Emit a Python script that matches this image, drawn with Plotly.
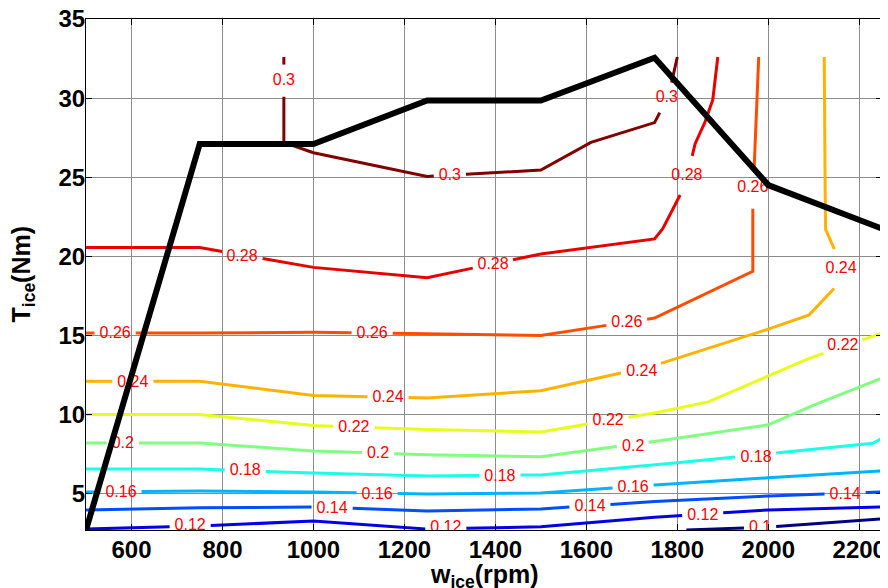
import math
import plotly.graph_objects as go

# axis limits of the map
w_min, w_max = 500, 2250
t_min, t_max = 2.7, 35

# contour levels (jet colours, MATLAB style)
levels = ['0.1', '0.12', '0.14', '0.16', '0.18', '0.2', '0.22', '0.24', '0.26', '0.28', '0.3']
level_colors = ['#000080', '#0000e6', '#004dff', '#00b3ff', '#1affe6', '#80ff80',
                '#e6ff1a', '#ffb300', '#ff4d00', '#e60000', '#800000']

# contour vertices: speed (rpm) / torque (Nm)
c010_w = [1820, 2000, 2250]
c010_t = [2.7, 2.89, 3.4]
c012_w = [500, 750, 1000, 1250, 1500, 1750, 2000, 2250]
c012_t = [2.76, 2.95, 3.27, 2.76, 2.9, 3.5, 3.97, 4.15]
c014_w = [500, 750, 1000, 1250, 1500, 1750, 2000, 2250]
c014_t = [3.97, 4.1, 4.16, 3.9, 4.03, 4.5, 4.85, 5.1]
c016_w = [500, 750, 1000, 1250, 1500, 1750, 2000, 2250]
c016_t = [5.1, 5.17, 5.1, 4.98, 5.04, 5.55, 6.0, 6.43]
c018_w = [500, 750, 1000, 1250, 1500, 1800, 2230, 2250]
c018_t = [6.55, 6.55, 6.3, 6.12, 6.18, 6.95, 8.18, 8.5]
c020_w = [500, 750, 1000, 1250, 1500, 1750, 2000, 2100, 2250]
c020_t = [8.2, 8.2, 7.7, 7.45, 7.33, 8.3, 9.35, 10.6, 12.3]
c022_w = [500, 750, 1000, 1250, 1500, 1750, 1868, 2000, 2090, 2250]
c022_t = [10.0, 10.0, 9.3, 9.05, 8.9, 10.1, 10.8, 12.45, 13.55, 15.15]
c024_w = [500, 750, 1000, 1250, 1500, 1750, 2000, 2090, 2143, 2154, 2150, 2126, 2125, 2123]
c024_t = [12.1, 12.1, 11.2, 11.05, 11.5, 13.1, 15.4, 16.3, 17.9, 18.4, 20.15, 21.7, 24.4, 32.6]
c026_w = [500, 750, 1000, 1250, 1500, 1750, 1966, 1966, 1975, 1979]
c026_t = [15.15, 15.15, 15.2, 15.1, 15.0, 16.1, 19.05, 23.45, 30.0, 32.6]
c028_w = [500, 750, 1000, 1250, 1500, 1750, 1768, 1812, 1832, 1839, 1861, 1878, 1889]
c028_t = [20.55, 20.55, 19.3, 18.65, 20.15, 21.1, 21.75, 24.2, 26.25, 27.1, 28.5, 29.9, 32.6]
c030_w = [935, 935, 1000, 1250, 1500, 1610, 1750, 1768, 1786, 1800]
c030_t = [32.6, 27.2, 26.55, 25.05, 25.45, 27.2, 28.45, 29.45, 30.8, 32.6]

contour_w = [c010_w, c012_w, c014_w, c016_w, c018_w, c020_w, c022_w, c024_w, c026_w, c028_w, c030_w]
contour_t = [c010_t, c012_t, c014_t, c016_t, c018_t, c020_t, c022_t, c024_t, c026_t, c028_t, c030_t]

# inline labels (level, speed, torque)
label_lvl = ['0.1', '0.12', '0.12', '0.12', '0.14', '0.14', '0.14', '0.16', '0.16', '0.16',
             '0.18', '0.18', '0.18', '0.2', '0.2', '0.2', '0.22', '0.22', '0.22',
             '0.24', '0.24', '0.24', '0.24', '0.26', '0.26', '0.26', '0.26',
             '0.28', '0.28', '0.28', '0.3', '0.3', '0.3']
label_w = [1982, 729, 1291, 1856, 1041, 1608, 2169, 577, 1140, 1703,
           850, 1410, 1973, 581, 1142, 1703, 1089, 1648, 2164,
           603, 1164, 1722, 2160, 564, 1129, 1689, 1966,
           843, 1395, 1821, 935, 1300, 1777]
label_t = [2.8, 2.95, 2.85, 3.6, 4.05, 4.15, 4.9, 5.05, 4.9, 5.35,
           6.4, 6.05, 7.25, 8.15, 7.5, 7.95, 9.15, 9.6, 14.3,
           12.0, 11.05, 12.7, 19.2, 15.1, 15.1, 15.8, 24.3,
           19.95, 19.45, 25.1, 31.1, 25.1, 30.0]

# ICE max torque curve
curve_w = [500, 750, 1000, 1250, 1500, 1750, 2000, 2250]
curve_t = [2.7, 27.1, 27.1, 29.85, 29.85, 32.55, 24.5, 21.75]

SX = 796 / (w_max - w_min)
SY = 511 / (t_max - t_min)
LABEL_SIZE = 16


def text_width(txt):
    return sum(0.278 if ch == '.' else 0.556 for ch in txt) * LABEL_SIZE


def cut_gaps(ws, ts, marks):
    px = [(w - w_min) * SX for w in ws]
    py = [(t - t_min) * SY for t in ts]
    s = [0.0]
    for i in range(1, len(px)):
        s.append(s[-1] + math.hypot(px[i] - px[i - 1], py[i] - py[i - 1]))
    cuts = []
    for mw, mt, txt in marks:
        qx, qy = (mw - w_min) * SX, (mt - t_min) * SY
        best = None
        for i in range(len(px) - 1):
            dx, dy = px[i + 1] - px[i], py[i + 1] - py[i]
            l2 = dx * dx + dy * dy
            u = 0 if l2 == 0 else max(0, min(1, ((qx - px[i]) * dx + (qy - py[i]) * dy) / l2))
            d = math.hypot(px[i] + u * dx - qx, py[i] + u * dy - qy)
            if best is None or d < best[0]:
                best = (d, s[i] + u * math.sqrt(l2))
        half = text_width(txt) / 2 + 5
        cuts.append((best[1] - half, best[1] + half))
    cuts.sort()
    keep, a = [], 0.0
    for c0, c1 in cuts:
        if c0 > a:
            keep.append((a, c0))
        a = max(a, c1)
    if a < s[-1]:
        keep.append((a, s[-1]))

    def at(v):
        for i in range(len(s) - 1):
            if s[i] <= v <= s[i + 1]:
                f = (v - s[i]) / (s[i + 1] - s[i]) if s[i + 1] > s[i] else 0
                return ws[i] + f * (ws[i + 1] - ws[i]), ts[i] + f * (ts[i + 1] - ts[i])
        return ws[-1], ts[-1]

    xo, yo = [], []
    for a, b in keep:
        pts = [at(a)] + [(ws[i], ts[i]) for i in range(len(s)) if a < s[i] < b] + [at(b)]
        for p in pts:
            xo.append(p[0])
            yo.append(p[1])
        xo.append(None)
        yo.append(None)
    return xo, yo


fig = go.Figure()

for lvl, col, ws, ts in zip(levels, level_colors, contour_w, contour_t):
    marks = [(w, t, l) for l, w, t in zip(label_lvl, label_w, label_t) if l == lvl]
    xo, yo = cut_gaps(ws, ts, marks)
    fig.add_trace(go.Scatter(x=xo, y=yo, mode='lines', line=dict(color=col, width=3),
                             showlegend=False, hoverinfo='skip'))

fig.add_trace(go.Scatter(x=label_w, y=label_t, mode='text', text=label_lvl,
                         textposition='middle center', cliponaxis=True,
                         textfont=dict(color='#ff0000', size=LABEL_SIZE, family='Liberation Sans'),
                         showlegend=False, hoverinfo='skip'))

fig.add_trace(go.Scatter(x=curve_w, y=curve_t, mode='lines', line=dict(color='black', width=6),
                         showlegend=False))

axis_font = dict(family='Liberation Sans', size=24, color='black', weight='bold')
fig.update_xaxes(range=[w_min, w_max], tickvals=list(range(600, 2201, 200)), automargin=False,
                 ticks='inside', ticklen=6, tickcolor='black', showline=True, linecolor='black',
                 linewidth=1, mirror='ticks', showgrid=True, gridcolor='#8c8c8c', gridwidth=1,
                 zeroline=False, tickfont=axis_font, ticklabelstandoff=-2,
                 ticklabeloverflow='allow')
fig.update_yaxes(range=[t_min, t_max], tickvals=list(range(5, 36, 5)), automargin=False,
                 ticks='inside', ticklen=6, tickcolor='black', showline=True, linecolor='black',
                 linewidth=1, mirror='ticks', showgrid=True, gridcolor='#8c8c8c', gridwidth=1,
                 zeroline=False, tickfont=axis_font, ticklabelstandoff=-5,
                 ticklabeloverflow='allow')

fig.add_annotation(text='T<sub>ice</sub>(Nm)', xref='paper', yref='paper', x=0, y=0.5,
                   xanchor='center', yanchor='middle', textangle=-90, xshift=-64, showarrow=False,
                   font=dict(family='Liberation Sans', size=25, color='black', weight='bold'))
fig.add_annotation(text='w<sub>ice</sub>(rpm)', xref='paper', yref='paper', x=0.5, y=0,
                   xanchor='center', yanchor='top', yshift=-28, showarrow=False,
                   font=dict(family='Liberation Sans', size=25, color='black', weight='bold'))

# the page body adds an 8px offset, so the figure is 8px smaller than the window
fig.update_layout(width=880, height=580, margin=dict(l=78, r=6, t=11, b=58),
                  plot_bgcolor='white', paper_bgcolor='white', showlegend=False)

fig.write_html("out.html")
